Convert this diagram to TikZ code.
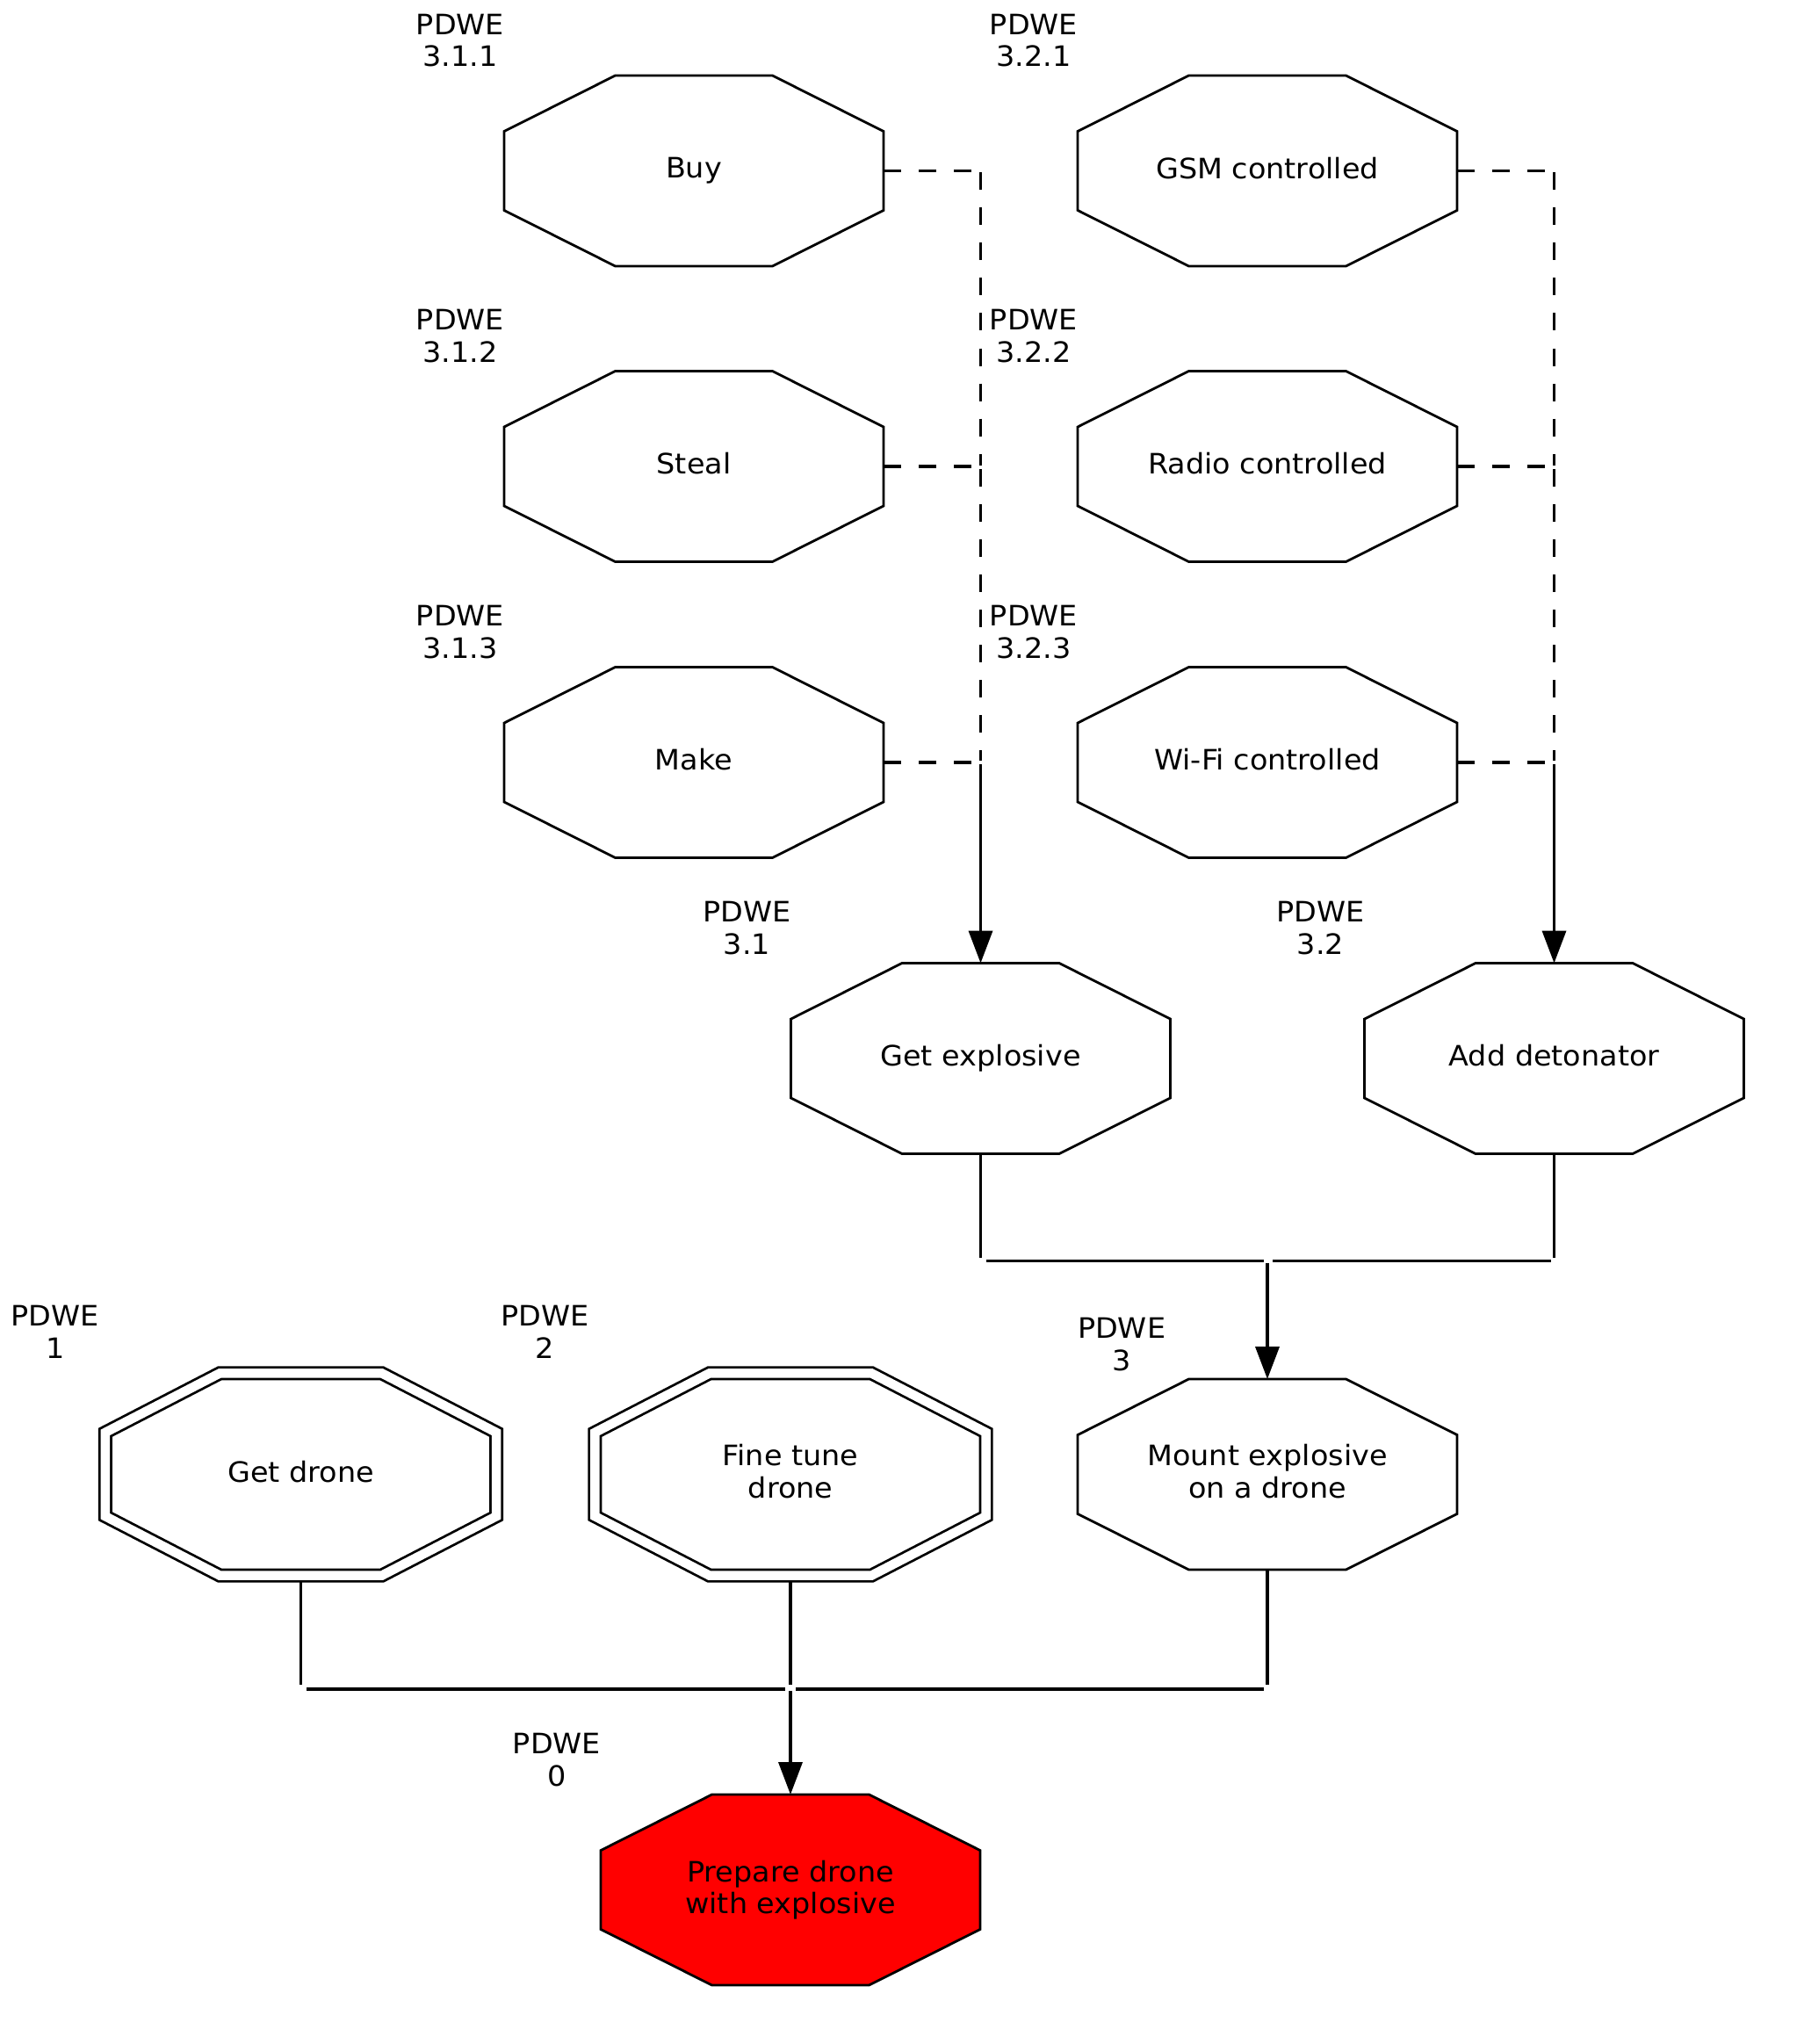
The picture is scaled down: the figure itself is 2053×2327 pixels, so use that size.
\documentclass[tikz,border=0pt]{standalone}
\usepackage{fontspec}
\setmainfont{DejaVu Sans}[FakeStretch=1.045]
\usetikzlibrary{arrows.meta,calc}

% Octagon whose corners are cut at the regular-octagon ratio of its bounding box
\makeatletter
\pgfdeclareshape{gvoctagon}{
  \inheritsavedanchors[from=rectangle]
  \inheritanchorborder[from=rectangle]
  \inheritanchor[from=rectangle]{center}
  \inheritanchor[from=rectangle]{north}
  \inheritanchor[from=rectangle]{south}
  \inheritanchor[from=rectangle]{east}
  \inheritanchor[from=rectangle]{west}
  \inheritanchor[from=rectangle]{north west}
  \inheritanchor[from=rectangle]{north east}
  \inheritanchor[from=rectangle]{south west}
  \inheritanchor[from=rectangle]{south east}
  \inheritanchor[from=rectangle]{base}
  \inheritanchor[from=rectangle]{mid}
  \backgroundpath{%
    \southwest \pgf@xa=\pgf@x \pgf@ya=\pgf@y
    \northeast \pgf@xb=\pgf@x \pgf@yb=\pgf@y
    \pgf@xc=\pgf@xb \advance\pgf@xc by -\pgf@xa \pgf@xc=0.29289\pgf@xc
    \pgf@yc=\pgf@yb \advance\pgf@yc by -\pgf@ya \pgf@yc=0.29289\pgf@yc
    \edef\oct@xl{\the\pgf@xa}\edef\oct@xr{\the\pgf@xb}%
    \edef\oct@yb{\the\pgf@ya}\edef\oct@yt{\the\pgf@yb}%
    \advance\pgf@xa by \pgf@xc \advance\pgf@xb by -\pgf@xc
    \advance\pgf@ya by \pgf@yc \advance\pgf@yb by -\pgf@yc
    \edef\oct@xil{\the\pgf@xa}\edef\oct@xir{\the\pgf@xb}%
    \edef\oct@yib{\the\pgf@ya}\edef\oct@yit{\the\pgf@yb}%
    \pgfpathmoveto{\pgfqpoint{\oct@xil}{\oct@yt}}%
    \pgfpathlineto{\pgfqpoint{\oct@xir}{\oct@yt}}%
    \pgfpathlineto{\pgfqpoint{\oct@xr}{\oct@yit}}%
    \pgfpathlineto{\pgfqpoint{\oct@xr}{\oct@yib}}%
    \pgfpathlineto{\pgfqpoint{\oct@xir}{\oct@yb}}%
    \pgfpathlineto{\pgfqpoint{\oct@xil}{\oct@yb}}%
    \pgfpathlineto{\pgfqpoint{\oct@xl}{\oct@yib}}%
    \pgfpathlineto{\pgfqpoint{\oct@xl}{\oct@yit}}%
    \pgfpathclose
  }
}
\makeatother

\begin{document}
\begin{tikzpicture}[x=0.5pt,y=-0.5pt,
  every node/.style={font=\fontsize{16pt}{18.35pt}\selectfont, inner sep=0pt, outer sep=0pt},
  task/.style={shape=gvoctagon, draw=black, line width=1.4pt,
    minimum width=216pt, minimum height=108.5pt, align=center,
    execute at begin node={\vphantom{A}}, execute at end node={\vphantom{y}}},
  twin/.style={task, minimum width=222.65pt, minimum height=115.15pt,
    double=white, double distance=5.25pt},
  goal/.style={task, fill=red},
  tag/.style={align=center, text depth=5pt},
  link/.style={line width=1.8pt},
  optlink/.style={link, dash pattern=on 10pt off 10pt},
  arr/.style={link, -{Triangle[length=18.5pt,width=13.5pt]}}
]
\useasboundingbox (0,0) rectangle (2053,2327);

% ---- leaf alternatives ----
\node[task] (buy)   at (790,194.5) {Buy};
\node[task] (steal) at (790,531)   {Steal};
\node[task] (make)  at (790,868)   {Make};
\node[task] (gsm)   at (1443,194.5) {GSM controlled};
\node[task] (radio) at (1443,531)   {Radio controlled};
\node[task] (wifi)  at (1443,868)   {Wi-Fi controlled};

% ---- intermediate steps ----
\node[task] (getexp) at (1116.5,1205) {Get explosive};
\node[task] (adddet) at (1769.5,1205) {Add detonator};

\node[twin] (getdrone) at (342.5,1678.5) {Get drone};
\node[twin] (finetune) at (900,1678.5)   {Fine tune\\drone};
\node[task] (mount)    at (1443,1678.5)  {Mount explosive\\on a drone};

% ---- goal ----
\node[goal] (prepare) at (900,2151.5) {Prepare drone\\with explosive};

% ---- identifiers ----
\node[tag, anchor=south east] (lbuy)   at (buy.north west)   {PDWE\\3.1.1};
\node[tag, anchor=south east] (lsteal) at (steal.north west) {PDWE\\3.1.2};
\node[tag, anchor=south east] (lmake)  at (make.north west)  {PDWE\\3.1.3};
\node[tag, anchor=south east] (lgsm)   at (gsm.north west)   {PDWE\\3.2.1};
\node[tag, anchor=south east] (lradio) at (radio.north west) {PDWE\\3.2.2};
\node[tag, anchor=south east] (lwifi)  at (wifi.north west)  {PDWE\\3.2.3};
\node[tag, anchor=south east] (lgetexp) at (getexp.north west) {PDWE\\3.1};
\node[tag, anchor=south east] (ladddet) at (adddet.north west) {PDWE\\3.2};
\node[tag, anchor=south east] (lgetdrone) at ($(getdrone.north west)+(-7,-7)$) {PDWE\\1};
\node[tag, anchor=south east] (lfinetune) at ($(finetune.north west)+(-7,-7)$) {PDWE\\2};
\node[tag, anchor=south west] (lmount)   at (mount.north west)   {PDWE\\3};
\node[tag, anchor=south east] (lprepare) at (prepare.north west) {PDWE\\0};

% ---- alternatives for the explosive (dashed OR links) ----
\draw[optlink] (buy.east) -- ($(buy.east -| getexp.north)+(-10,0)$);
\draw[optlink] ($(buy.east -| getexp.north)+(0,2)$) -- ($(steal.east -| getexp.north)+(0,-1)$);
\draw[optlink] (steal.east) -- ($(steal.east -| getexp.north)+(-10,0)$);
\draw[optlink] ($(steal.east -| getexp.north)+(0,3)$) -- ($(make.east -| getexp.north)+(0,-2)$);
\draw[optlink] (make.east) -- ($(make.east -| getexp.north)+(-10,0)$);
\draw[arr] ($(make.east -| getexp.north)+(0,2)$) -- (getexp.north);

% ---- alternatives for the detonator ----
\draw[optlink] (gsm.east) -- ($(gsm.east -| adddet.north)+(-10,0)$);
\draw[optlink] ($(gsm.east -| adddet.north)+(0,2)$) -- ($(radio.east -| adddet.north)+(0,-1)$);
\draw[optlink] (radio.east) -- ($(radio.east -| adddet.north)+(-10,0)$);
\draw[optlink] ($(radio.east -| adddet.north)+(0,3)$) -- ($(wifi.east -| adddet.north)+(0,-2)$);
\draw[optlink] (wifi.east) -- ($(wifi.east -| adddet.north)+(-10,0)$);
\draw[arr] ($(wifi.east -| adddet.north)+(0,2)$) -- (adddet.north);

% ---- explosive + detonator -> mount ----
\coordinate (j1) at ($(mount.north)+(0,-134.5)$);
\draw[link] (getexp.south) -- ($(getexp.south |- j1)+(0,-4)$);
\draw[link] ($(getexp.south |- j1)+(6,0)$) -- ($(j1)+(-4,0)$);
\draw[link] (adddet.south) -- ($(adddet.south |- j1)+(0,-4)$);
\draw[link] ($(adddet.south |- j1)+(-4,0)$) -- ($(j1)+(6,0)$);
\draw[arr] ($(j1)+(0,2)$) -- (mount.north);

% ---- steps -> goal ----
\coordinate (j2) at ($(prepare.north)+(0,-120)$);
\draw[link] ($(getdrone.south)+(0,6.65)$) -- ($(getdrone.south |- j2)+(0,-5)$);
\draw[link] ($(getdrone.south |- j2)+(6.5,0)$) -- ($(j2)+(-6,0)$);
\draw[link] ($(finetune.south)+(0,6.65)$) -- ($(j2)+(0,-5)$);
\draw[link] (mount.south) -- ($(mount.south |- j2)+(0,-5)$);
\draw[link] ($(mount.south |- j2)+(-4,0)$) -- ($(j2)+(6,0)$);
\draw[arr] ($(j2)+(0,2)$) -- (prepare.north);
\end{tikzpicture}
\end{document}
